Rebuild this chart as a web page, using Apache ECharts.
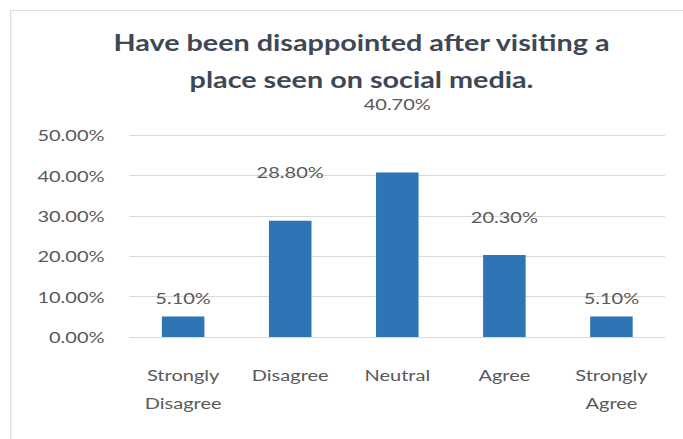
<!DOCTYPE html>
<html>
<head>
<meta charset="utf-8">
<script src="https://cdn.jsdelivr.net/npm/echarts@6/dist/echarts.min.js"></script>
<style>
  html, body { margin: 0; padding: 0; background: #ffffff; }
  #frame { width: 683px; height: 439px; overflow: hidden; position: relative; }
  /* the chart is laid out narrower and widened horizontally to fill the frame */
  #chart { width: 546px; height: 439px; transform-origin: 0 0; transform: scaleX(1.2509); }
</style>
</head>
<body>
<div id="frame"><div id="chart"></div></div>
<script>
// Survey responses: share of respondents per answer (percent)
const categories = ['Strongly\nDisagree', 'Disagree', 'Neutral', 'Agree', 'Strongly\nAgree'];
const values = [5.1, 28.8, 40.7, 20.3, 5.1];
const yTicks = [0, 10, 20, 30, 40, 50];

// Gap between each value label and its bar top (px)
const labelGap = [11, 41, 61, 30, 11];

const FONT = 'Lato, "Open Sans", sans-serif';
const chart = echarts.init(document.getElementById('chart'), null, { renderer: 'svg' });

chart.setOption({
  animation: false,
  backgroundColor: '#ffffff',
  title: {
    text: 'Have been disappointed after visiting a\nplace seen on social media.',
    left: 289,
    top: 24,
    padding: 0,
    textAlign: 'center',
    textStyle: {
      fontFamily: FONT,
      fontSize: 23,
      fontWeight: 'bold',
      color: '#3E4756',
      lineHeight: 37
    }
  },
  graphic: [{
    type: 'rect',
    shape: { x: 8.5, y: 10.5, width: 700, height: 460 },
    style: { fill: 'none', stroke: '#dcdcdc', lineWidth: 1 },
    silent: true
  }],
  grid: { left: 103.6, right: 14.4, top: 135, bottom: 102, containLabel: false },
  xAxis: {
    type: 'category',
    data: categories,
    axisLine: { show: true, lineStyle: { color: '#d9d9d9' } },
    axisTick: { show: false },
    axisLabel: {
      margin: 24,
      fontFamily: FONT,
      fontSize: 16,
      lineHeight: 28,
      color: '#595959'
    }
  },
  yAxis: {
    type: 'value',
    min: yTicks[0],
    max: yTicks[yTicks.length - 1],
    interval: 10,
    axisLine: { show: false },
    axisTick: { show: false },
    splitLine: { lineStyle: { color: '#d9d9d9' } },
    axisLabel: {
      margin: 20,
      fontFamily: FONT,
      fontSize: 16,
      color: '#595959',
      formatter: v => v.toFixed(2) + '%'
    }
  },
  series: [{
    type: 'bar',
    data: values.map((v, i) => ({
      value: v,
      label: { distance: labelGap[i] }
    })),
    barWidth: 34,
    itemStyle: { color: '#2E75B6' },
    label: {
      show: true,
      position: 'top',
      fontFamily: FONT,
      fontSize: 16,
      color: '#595959',
      formatter: p => p.value.toFixed(2) + '%'
    }
  }]
});
</script>
</body>
</html>
